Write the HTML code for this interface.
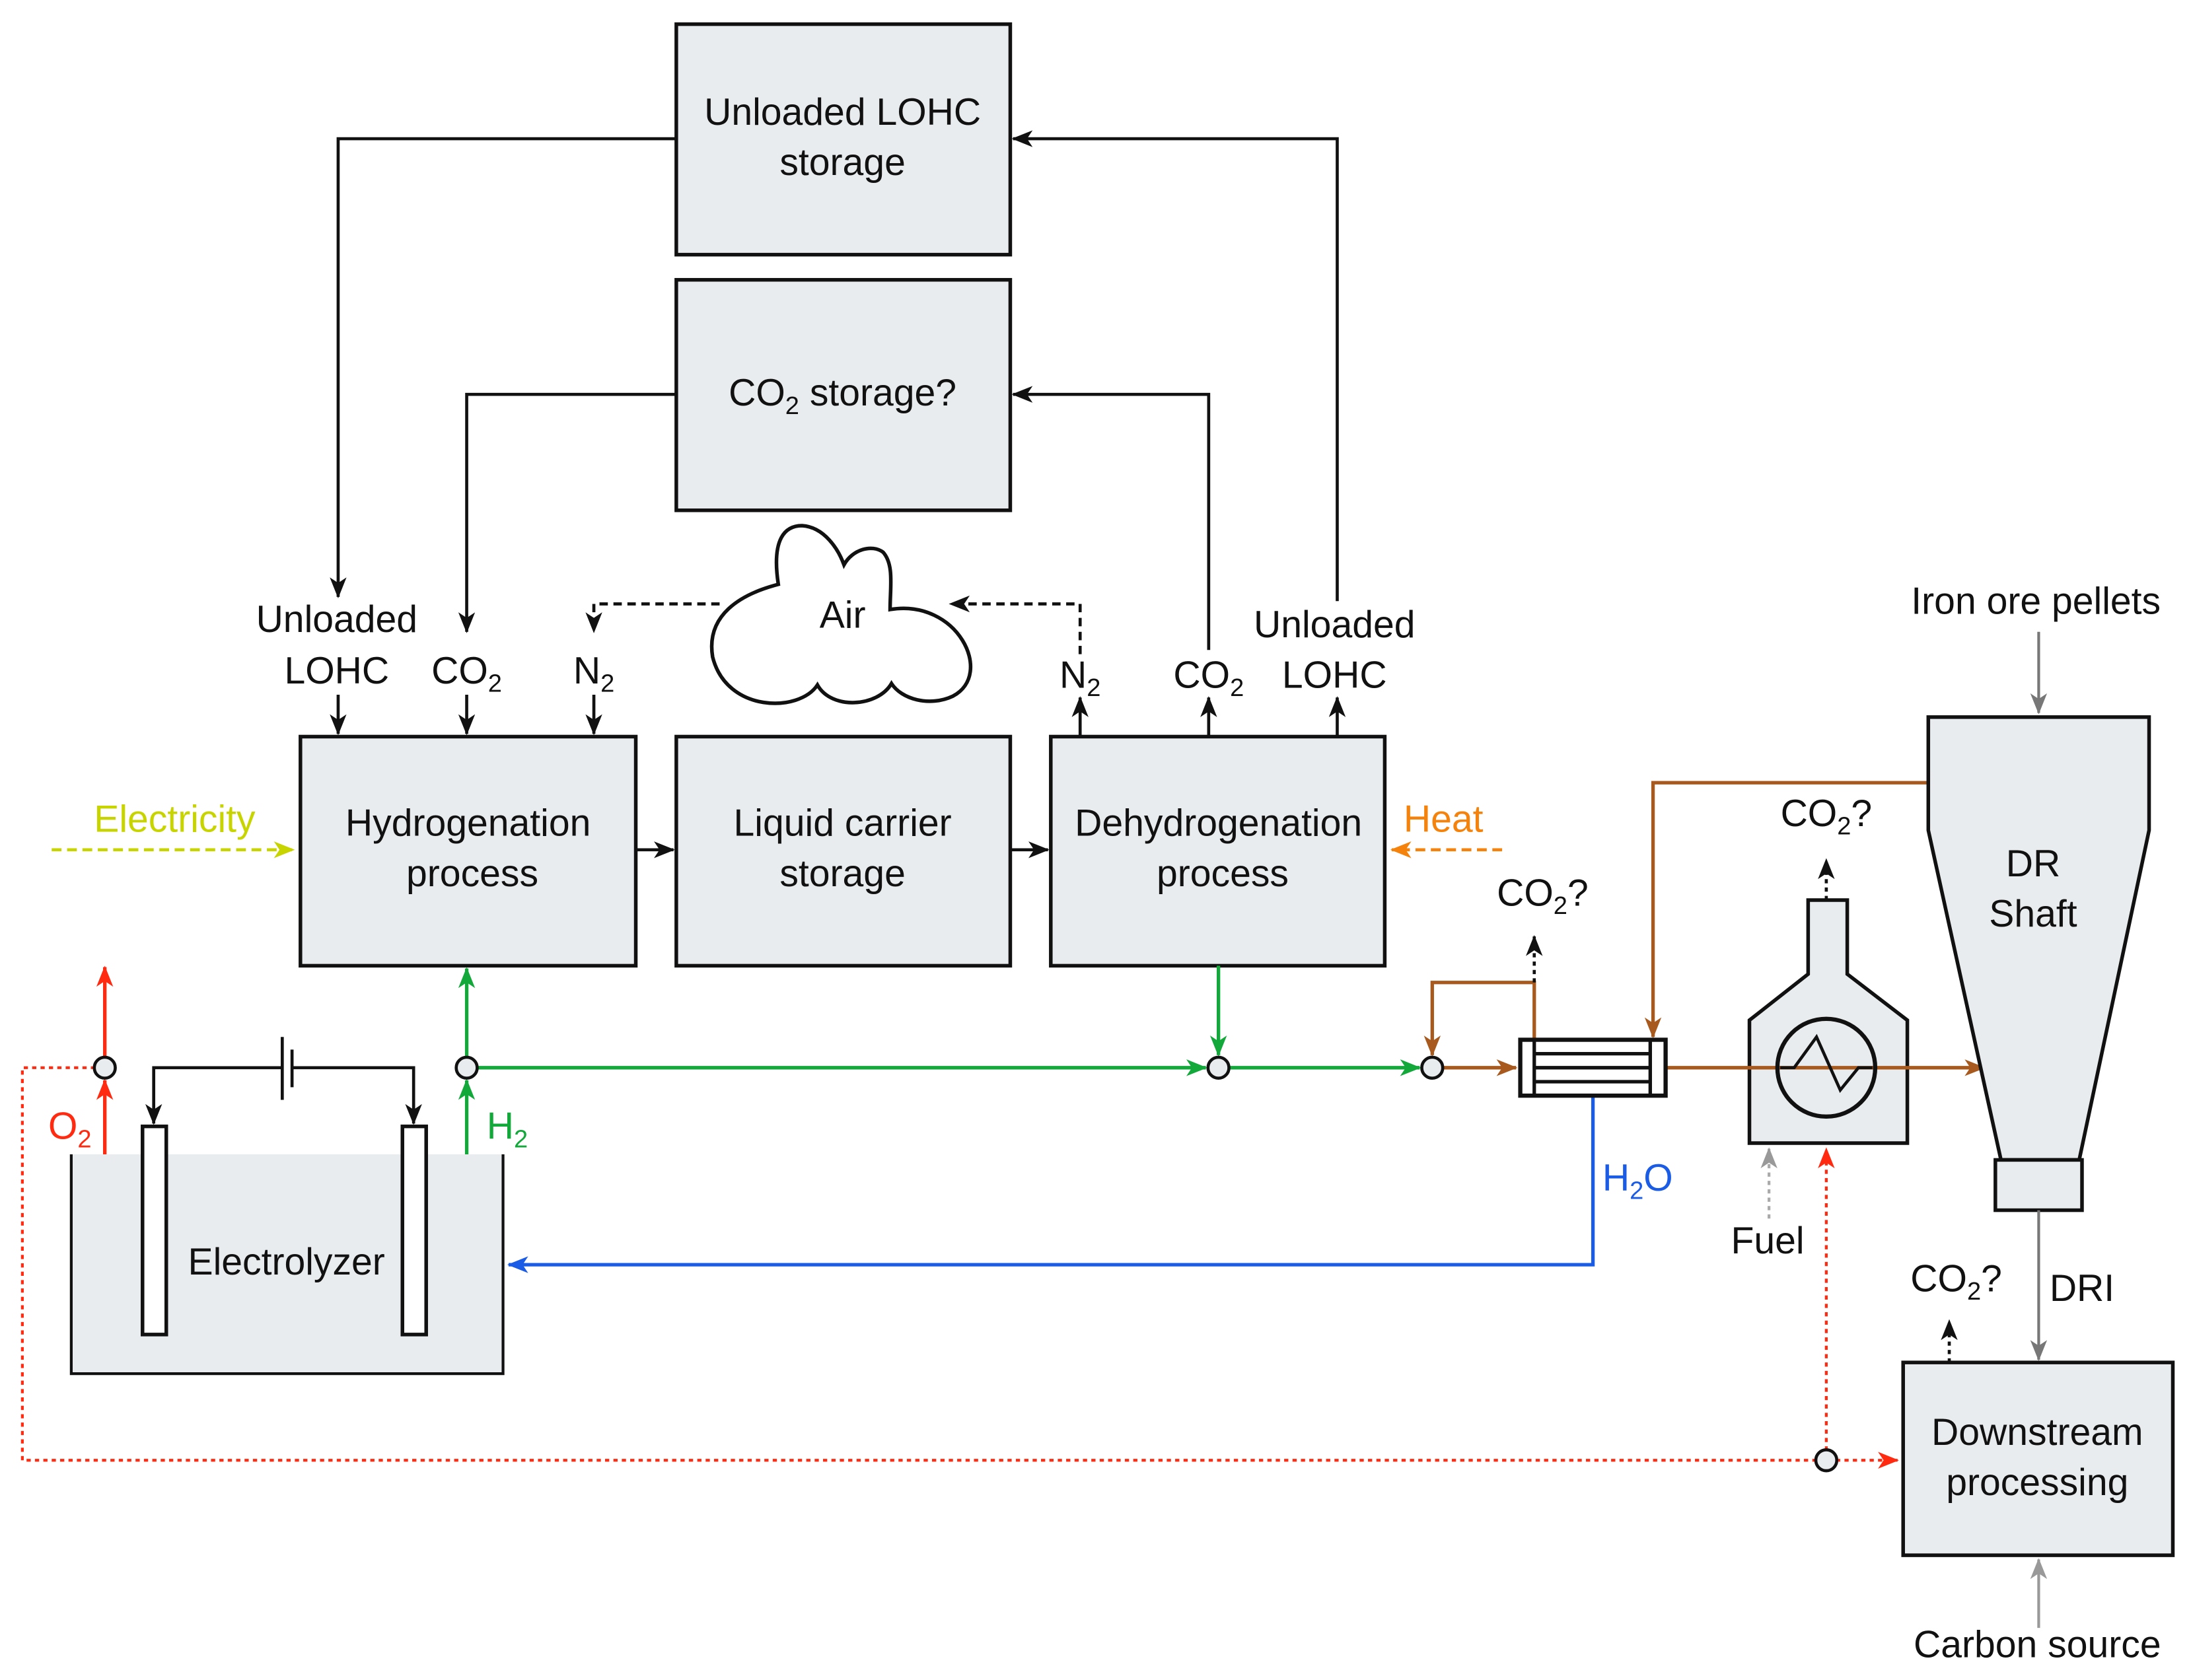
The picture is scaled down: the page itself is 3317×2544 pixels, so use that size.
<!DOCTYPE html>
<html><head><meta charset="utf-8">
<style>
html,body{margin:0;padding:0;background:#fff;}
svg{display:block;}
text{font-family:"Liberation Sans",Arial,sans-serif;font-size:27px;fill:#111;text-anchor:middle;}
.sub{font-size:18px;}
</style></head>
<body>
<svg width="3317" height="2544" viewBox="0 0 1568 1202" xmlns="http://www.w3.org/2000/svg">
<defs>
<marker id="ak" markerUnits="userSpaceOnUse" markerWidth="16" markerHeight="12" refX="14" refY="6" orient="auto"><path d="M0,0 L15,6 L0,12 L4,6 Z" fill="#111"/></marker>
<marker id="ag" markerUnits="userSpaceOnUse" markerWidth="16" markerHeight="12" refX="14" refY="6" orient="auto"><path d="M0,0 L15,6 L0,12 L4,6 Z" fill="#12a83a"/></marker>
<marker id="ar" markerUnits="userSpaceOnUse" markerWidth="16" markerHeight="12" refX="14" refY="6" orient="auto"><path d="M0,0 L15,6 L0,12 L4,6 Z" fill="#ff2a10"/></marker>
<marker id="ab" markerUnits="userSpaceOnUse" markerWidth="16" markerHeight="12" refX="14" refY="6" orient="auto"><path d="M0,0 L15,6 L0,12 L4,6 Z" fill="#1a5ce6"/></marker>
<marker id="an" markerUnits="userSpaceOnUse" markerWidth="16" markerHeight="12" refX="14" refY="6" orient="auto"><path d="M0,0 L15,6 L0,12 L4,6 Z" fill="#a85a1e"/></marker>
<marker id="ao" markerUnits="userSpaceOnUse" markerWidth="16" markerHeight="12" refX="14" refY="6" orient="auto"><path d="M0,0 L15,6 L0,12 L4,6 Z" fill="#f5820a"/></marker>
<marker id="ay" markerUnits="userSpaceOnUse" markerWidth="16" markerHeight="12" refX="14" refY="6" orient="auto"><path d="M0,0 L15,6 L0,12 L4,6 Z" fill="#c8d400"/></marker>
<marker id="aa" markerUnits="userSpaceOnUse" markerWidth="16" markerHeight="12" refX="14" refY="6" orient="auto"><path d="M0,0 L15,6 L0,12 L4,6 Z" fill="#999"/></marker>
<marker id="a8" markerUnits="userSpaceOnUse" markerWidth="16" markerHeight="12" refX="14" refY="6" orient="auto"><path d="M0,0 L15,6 L0,12 L4,6 Z" fill="#777"/></marker>
</defs>

<g fill="#e9ecee" stroke="#111" stroke-width="2.6">
<rect x="484" y="17" width="239" height="165"/>
<rect x="484" y="200" width="239" height="165"/>
<rect x="215" y="527" width="240" height="164"/>
<rect x="484" y="527" width="239" height="164"/>
<rect x="752" y="527" width="239" height="164"/>
<rect x="1362" y="975" width="193" height="138"/>
</g>
<text x="603" y="89">Unloaded LOHC</text>
<text x="603" y="125">storage</text>
<text x="603" y="290">CO<tspan class="sub" dy="6">2</tspan><tspan dy="-6"> storage?</tspan></text>
<text x="335" y="598">Hydrogenation</text>
<text x="338" y="634">process</text>
<text x="603" y="598">Liquid carrier</text>
<text x="603" y="634">storage</text>
<text x="872" y="598">Dehydrogenation</text>
<text x="875" y="634">process</text>
<text x="1458" y="1034">Downstream</text>
<text x="1458" y="1070">processing</text>

<g fill="none" stroke="#111" stroke-width="2.2">
<path d="M455,608 H482" marker-end="url(#ak)"/>
<path d="M723,608 H750" marker-end="url(#ak)"/>
<path d="M484,99 H242 V427" marker-end="url(#ak)"/>
<path d="M242,497 V525" marker-end="url(#ak)"/>
<path d="M484,282 H334 V452" marker-end="url(#ak)"/>
<path d="M334,497 V525" marker-end="url(#ak)"/>
<path d="M425,497 V525" marker-end="url(#ak)"/>
<path d="M773,527 V499" marker-end="url(#ak)"/>
<path d="M865,527 V499" marker-end="url(#ak)"/>
<path d="M957,527 V499" marker-end="url(#ak)"/>
<path d="M865,465 V282 H725" marker-end="url(#ak)"/>
<path d="M957,430 V99 H725" marker-end="url(#ak)"/>
<path d="M515,432 H425 V452" stroke-dasharray="6,4" marker-end="url(#ak)"/>
<path d="M773,468 V432 H680" stroke-dasharray="6,4" marker-end="url(#ak)"/>
</g>
<text x="241" y="452">Unloaded</text>
<text x="241" y="489">LOHC</text>
<text x="334" y="489">CO<tspan class="sub" dy="6">2</tspan></text>
<text x="425" y="489">N<tspan class="sub" dy="6">2</tspan></text>
<text x="773" y="492">N<tspan class="sub" dy="6">2</tspan></text>
<text x="865" y="492">CO<tspan class="sub" dy="6">2</tspan></text>
<text x="955" y="456">Unloaded</text>
<text x="955" y="492">LOHC</text>

<path d="M557,418 C552,385 562,376 574,376 C590,377 600,393 604,404 C610,393 624,389 632,395 C640,404 637,420 637,436 C685,428 712,482 682,498 C665,506 645,500 638,489 C628,506 595,508 585,490 C572,510 520,510 510,470 C505,440 530,425 557,418 Z" fill="#fff" stroke="#111" stroke-width="2.6"/>
<text x="603" y="449">Air</text>

<text x="125" y="595" style="fill:#c8d400">Electricity</text>
<path d="M37,608 H210" stroke="#c8d400" stroke-width="2.2" stroke-dasharray="7,4" fill="none" marker-end="url(#ay)"/>
<text x="1033" y="595" style="fill:#f5820a">Heat</text>
<path d="M1075,608 H996" stroke="#f5820a" stroke-width="2.2" stroke-dasharray="7,4" fill="none" marker-end="url(#ao)"/>

<rect x="51" y="826" width="309" height="157" fill="#e9ecee"/>
<path d="M51,826 V983 H360 V826" fill="none" stroke="#111" stroke-width="2"/>
<rect x="102" y="806" width="17" height="149" fill="#fff" stroke="#111" stroke-width="2.6"/>
<rect x="288" y="806" width="17" height="149" fill="#fff" stroke="#111" stroke-width="2.6"/>
<text x="205" y="912">Electrolyzer</text>
<g fill="none" stroke="#111" stroke-width="2.2">
<path d="M202,764 H110 V804" marker-end="url(#ak)"/>
<path d="M209,764 H296 V804" marker-end="url(#ak)"/>
<path d="M202,742 V787"/>
<path d="M209,751 V778"/>
</g>

<g fill="none" stroke="#12a83a" stroke-width="2.5">
<path d="M334,826 V773" marker-end="url(#ag)"/>
<path d="M334,757 V693" marker-end="url(#ag)"/>
<path d="M341,764 H863" marker-end="url(#ag)"/>
<path d="M872,691 V755" marker-end="url(#ag)"/>
<path d="M879,764 H1016" marker-end="url(#ag)"/>
</g>
<text x="363" y="815" style="fill:#12a83a">H<tspan class="sub" dy="6" style="fill:#12a83a">2</tspan></text>

<g fill="none" stroke="#ff2a10" stroke-width="2.5">
<path d="M75,826 V773" marker-end="url(#ar)"/>
<path d="M75,757 V692" marker-end="url(#ar)"/>
</g>
<path d="M68,764 H16 V1045 H1300" fill="none" stroke="#ff2a10" stroke-width="2" stroke-dasharray="3,3"/>
<path d="M1314,1045 H1358" fill="none" stroke="#ff2a10" stroke-width="2" stroke-dasharray="3,3" marker-end="url(#ar)"/>
<path d="M1307,1038 V822" fill="none" stroke="#ff2a10" stroke-width="2" stroke-dasharray="3,3" marker-end="url(#ar)"/>
<text x="50" y="815" style="fill:#ff2a10">O<tspan class="sub" dy="6" style="fill:#ff2a10">2</tspan></text>

<path d="M1140,784 V905 H364" fill="none" stroke="#1a5ce6" stroke-width="2.5" marker-end="url(#ab)"/>
<text x="1172" y="852" style="fill:#1a5ce6">H<tspan class="sub" dy="6" style="fill:#1a5ce6">2</tspan><tspan dy="-6" style="fill:#1a5ce6">O</tspan></text>

<path d="M1252,818 V730 L1294,697 V644 H1322 V697 L1365,730 V818 Z" fill="#e9ecee" stroke="#111" stroke-width="2.6"/>

<g fill="none" stroke="#a85a1e" stroke-width="2.5">
<path d="M1032,764 H1085" marker-end="url(#an)"/>
<path d="M1098,744 V703 H1025 V755" marker-end="url(#an)"/>
<path d="M1192,764 H1420" marker-end="url(#an)"/>
<path d="M1380,560 H1183 V742" marker-end="url(#an)"/>
</g>
<circle cx="1307" cy="764" r="35" fill="none" stroke="#111" stroke-width="3"/>
<path d="M1274,764 H1284 L1300,742 L1317,780 L1330,764 H1340" fill="none" stroke="#111" stroke-width="2.2"/>

<rect x="1088" y="744" width="104" height="40" fill="#fff" stroke="#111" stroke-width="3"/>
<path d="M1098,744 V784 M1181,744 V784 M1098,754 H1181 M1098,764 H1181 M1098,774 H1181" stroke="#111" stroke-width="2.5"/>

<g fill="none" stroke="#111" stroke-width="2.2" stroke-dasharray="3,3">
<path d="M1098,703 V670" marker-end="url(#ak)"/>
<path d="M1307,644 V615" marker-end="url(#ak)"/>
<path d="M1395,975 V945" marker-end="url(#ak)"/>
</g>
<text x="1104" y="648">CO<tspan class="sub" dy="6">2</tspan><tspan dy="-6">?</tspan></text>
<text x="1307" y="591">CO<tspan class="sub" dy="6">2</tspan><tspan dy="-6">?</tspan></text>
<text x="1400" y="924">CO<tspan class="sub" dy="6">2</tspan><tspan dy="-6">?</tspan></text>

<path d="M1266,872 V822" fill="none" stroke="#aaa" stroke-width="2" stroke-dasharray="3,3" marker-end="url(#aa)"/>
<text x="1265" y="897">Fuel</text>

<path d="M1380,513 H1538 V594 L1488,830 H1432 L1380,594 Z" fill="#e9ecee" stroke="#111" stroke-width="2.6"/>
<rect x="1428" y="830" width="62" height="36" fill="#e9ecee" stroke="#111" stroke-width="2.6"/>
<text x="1455" y="627">DR</text>
<text x="1455" y="663">Shaft</text>
<text x="1457" y="439">Iron ore pellets</text>
<path d="M1459,452 V510" fill="none" stroke="#777" stroke-width="2" marker-end="url(#a8)"/>
<path d="M1459,866 V973" fill="none" stroke="#777" stroke-width="2" marker-end="url(#a8)"/>
<text x="1490" y="931">DRI</text>
<text x="1458" y="1186">Carbon source</text>
<path d="M1459,1165 V1116" fill="none" stroke="#999" stroke-width="2" marker-end="url(#aa)"/>

<g fill="#e9ecee" stroke="#111" stroke-width="2.2">
<circle cx="75" cy="764" r="7.5"/>
<circle cx="334" cy="764" r="7.5"/>
<circle cx="872" cy="764" r="7.5"/>
<circle cx="1025" cy="764" r="7.5"/>
<circle cx="1307" cy="1045" r="7.5"/>
</g>
</svg>
</body></html>
